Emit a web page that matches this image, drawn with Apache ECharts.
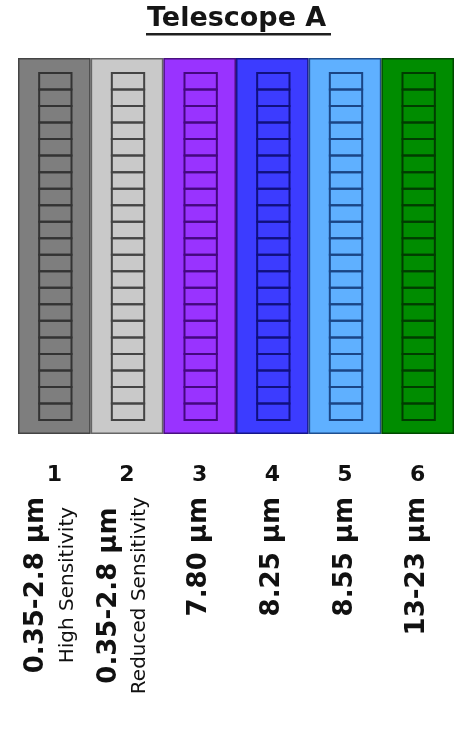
<!DOCTYPE html>
<html><head><meta charset="utf-8">
<script src="https://cdn.jsdelivr.net/npm/echarts@6/dist/echarts.min.js"></script>
<style>html,body{margin:0;padding:0;background:#fff}#c{width:454px;height:732px}</style>
</head><body><div id="c"></div>
<script>
const chartTitle = 'Telescope A';
const channels = ['1', '2', '3', '4', '5', '6'];
const wavelengths = ['0.35-2.8 µm', '0.35-2.8 µm', '7.80 µm', '8.25 µm', '8.55 µm', '13-23 µm'];
const sensitivities = ['High Sensitivity', 'Reduced Sensitivity', '', '', '', ''];
const stripExtent = [1, 1, 1, 1, 1, 1];
const cellsPerStrip = [21, 21, 21, 21, 21, 21];
const stripColors = ['#7e7e7e', '#c9c9c9', '#9933ff', '#3c3cff', '#5fb0ff', '#008c00'];
const stripBorderColors = ['#444444', '#666666', '#4a1080', '#16168a', '#1f4f8f', '#004a00'];
const ladderColors = ['#333333', '#444444', '#44087f', '#10107f', '#1a4585', '#003c00'];

const chart = echarts.init(document.getElementById('c'), null, {renderer: 'canvas'});
const ladderWidthRatio = 0.445;

chart.setOption({
  animation: false,
  backgroundColor: '#ffffff',
  title: {
    text: chartTitle, left: 147, top: 5, padding: 0,
    textStyle: {fontFamily: 'DejaVu Sans', fontWeight: 'bold', fontSize: 27, color: '#151515'}
  },
  graphic: [{type: 'rect', shape: {x: 146, y: 33, width: 185, height: 2.5}, style: {fill: '#202020'}}],
  grid: [
    {left: 18, top: 58, width: 438, height: 376},
    {left: 18, top: 73, width: 438, height: 347}
  ],
  xAxis: [
    {gridIndex: 0, type: 'category', data: channels,
     axisLine: {show: false}, axisTick: {show: false},
     axisLabel: {margin: 30, interval: 0, fontFamily: 'DejaVu Sans', fontWeight: 'bold', fontSize: 22, color: '#111'}},
    {gridIndex: 1, type: 'category', data: channels,
     axisLine: {show: false}, axisTick: {show: false},
     axisLabel: {rotate: 90, margin: 77, interval: 0,
       formatter: function (v, i) {
         return sensitivities[i] ? '{m|' + wavelengths[i] + '}\n{s|' + sensitivities[i] + '}' : '{m|' + wavelengths[i] + '}';
       },
       rich: {
         m: {fontFamily: 'DejaVu Sans', fontWeight: 'bold', fontSize: 26, lineHeight: 26, align: 'center', color: '#111'},
         s: {fontFamily: 'DejaVu Sans', fontSize: 20, lineHeight: 36, align: 'center', color: '#111'}
       }}}
  ],
  yAxis: [
    {gridIndex: 0, type: 'value', min: 0, max: Math.max(...stripExtent), show: false},
    {gridIndex: 1, type: 'value', min: 0, max: Math.max(...cellsPerStrip), show: false}
  ],
  series: [
    {type: 'bar', xAxisIndex: 0, yAxisIndex: 0, barCategoryGap: 0, silent: true, z: 2,
     data: stripExtent.map(function (v, i) {
       return {value: v, itemStyle: {color: stripColors[i], borderColor: stripBorderColors[i], borderWidth: 1.5}};
     })},
    {type: 'custom', xAxisIndex: 1, yAxisIndex: 1, silent: true, z: 5,
     data: channels.map(function (c, i) { return [i, cellsPerStrip[i]]; }),
     renderItem: function (params, api) {
       const cat = api.value(0), n = api.value(1);
       const w = api.size([1, 0])[0] * ladderWidthRatio;
       const children = [];
       for (let k = 0; k < n; k++) {
         const a = api.coord([cat, k]), b = api.coord([cat, k + 1]);
         children.push({type: 'rect',
           shape: {x: a[0] - w / 2 + 1, y: b[1], width: w, height: a[1] - b[1]},
           style: {fill: 'none', stroke: ladderColors[params.dataIndex], lineWidth: 2}});
       }
       return {type: 'group', children: children};
     }}
  ]
});
</script></body></html>
